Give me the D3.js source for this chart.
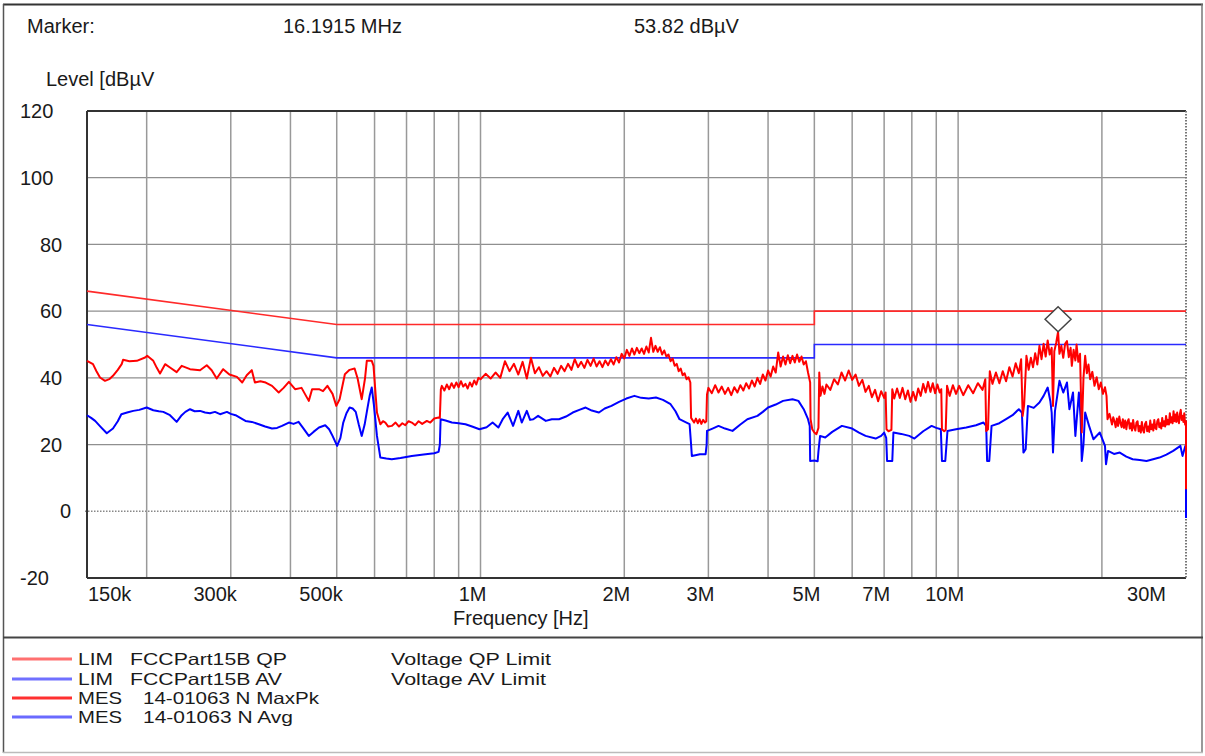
<!DOCTYPE html>
<html>
<head>
<meta charset="utf-8">
<script src="https://cdn.jsdelivr.net/npm/d3@7"></script>
<style>
  html, body { margin: 0; padding: 0; background: #fff; }
  svg { display: block; }
  text { font-family: "Liberation Sans", Arial, sans-serif; fill: #1a1a1a; }
</style>
</head>
<body>
<svg id="chart" width="1205" height="756"></svg>
<script>
// ---------- data ----------
const yTicks = [-20, 0, 20, 40, 60, 80, 100, 120];
const xTickFreqs = [0.15, 0.3, 0.5, 1, 2, 3, 5, 7, 10, 30];           // MHz
const xTickLabels = ["150k", "300k", "500k", "1M", "2M", "3M", "5M", "7M", "10M", "30M"];
const gridFreqs = [0.2, 0.3, 0.4, 0.5, 0.6, 0.7, 0.8, 0.9, 1, 2, 3, 4, 5, 6, 7, 8, 9, 10, 20];
const headerTexts = ["Marker:", "16.1915 MHz", "53.82 dBµV"];
const marker = { freq: 16.1915, level: 53.82 };

const qpLimit = [[0.15, 66], [0.5, 56], [5, 56], [5, 60], [30, 60]];
const avLimit = [[0.15, 56], [0.5, 46], [5, 46], [5, 50], [30, 50]];

const legendNames = ["LIM", "LIM", "MES", "MES"];
const legendSeries = ["FCCPart15B QP", "FCCPart15B AV", "14-01063 N MaxPk", "14-01063 N Avg"];
const legendDescr = ["Voltage QP Limit", "Voltage AV Limit", "", ""];

const maxPk = [
[0.150,45.1],[0.1544,44.1],[0.157,42.0],[0.1597,40.1],[0.1636,39.1],[0.167,39.6],[0.170,40.6],[0.174,42.4],[0.1773,44.1],[0.1785,45.4],[0.184,45.0],[0.1907,45.1],[0.1985,46.1],[0.2005,46.6],[0.2065,45.1],[0.210,43.0],[0.2133,41.3],[0.2186,44.1],[0.2238,43.1],[0.2311,41.7],[0.2368,43.6],[0.2465,42.6],[0.2587,42.3],[0.2672,43.8],[0.2736,42.3],[0.2803,39.8],[0.2892,42.6],[0.298,41.0],[0.309,40.3],[0.317,38.6],[0.324,40.8],[0.332,42.3],[0.337,38.6],[0.346,39.0],[0.355,38.6],[0.366,37.6],[0.378,35.6],[0.387,37.0],[0.397,38.8],[0.409,36.6],[0.422,37.0],[0.437,33.1],[0.444,36.6],[0.459,36.6],[0.468,36.0],[0.478,37.6],[0.490,35.2],[0.499,31.6],[0.507,33.6],[0.520,41.1],[0.532,42.4],[0.545,42.8],[0.553,39.8],[0.564,33.6],[0.573,39.8],[0.578,45.1],[0.592,45.1],[0.597,43.6],[0.607,29.6],[0.617,26.1],[0.625,27.0],[0.632,26.6],[0.641,25.4],[0.652,25.6],[0.664,26.6],[0.675,25.4],[0.686,26.4],[0.696,25.8],[0.707,27.0],[0.718,26.6],[0.730,25.8],[0.742,27.0],[0.755,26.2],[0.772,27.1],[0.785,26.6],[0.800,27.8],[0.817,28.1],[0.822,28.0],[0.826,36.6],
[0.83,37.6],[0.84,36.2],[0.85,38.0],[0.86,36.6],[0.87,38.4],[0.88,37.0],[0.89,38.6],[0.90,37.2],[0.91,39.0],[0.92,37.4],[0.93,38.2],[0.94,36.8],[0.95,38.6],[0.96,37.4],[0.97,39.2],[0.98,38.0],[0.99,40.0],
[1.000,39.6],[1.025,41.2],[1.050,39.8],[1.075,41.6],[1.100,40.0],[1.125,45.0],[1.150,42.0],[1.175,44.2],[1.200,41.0],[1.225,44.8],[1.250,39.8],[1.275,46.0],[1.300,41.4],[1.325,43.2],[1.350,40.6],[1.375,42.0],[1.400,40.4],[1.425,43.0],[1.450,41.2],[1.475,43.6],[1.500,42.0],[1.525,44.2],[1.550,42.4],[1.575,45.6],[1.600,43.2],[1.625,44.8],[1.650,43.0],[1.675,45.4],[1.700,43.6],[1.725,45.8],[1.750,43.4],[1.775,45.0],[1.800,43.2],[1.825,45.2],[1.850,43.8],[1.875,45.6],[1.900,44.0],[1.925,46.2],[1.950,44.6],[1.975,47.2],[2.000,45.8],
[2.025,48.4],[2.050,46.6],[2.075,48.8],[2.100,47.0],[2.125,49.0],[2.150,47.4],[2.175,48.8],[2.200,47.2],[2.225,49.4],[2.250,47.6],[2.275,52.0],[2.300,47.8],[2.325,49.6],[2.350,47.8],[2.375,49.2],[2.400,47.0],[2.425,48.2],[2.450,46.4],[2.475,47.0],[2.500,45.0],[2.525,45.8],[2.550,43.6],[2.575,44.2],[2.600,42.0],[2.625,42.8],[2.650,40.8],[2.675,41.4],[2.700,39.6],[2.725,40.2],[2.750,38.6],[2.760,28.0],[2.800,26.6],[2.825,27.8],[2.850,26.4],[2.875,27.6],[2.900,26.2],[2.925,27.4],[2.950,26.6],[2.970,27.0],[2.980,35.0],
[3.00,37.0],[3.05,35.4],[3.10,37.8],[3.15,35.6],[3.20,37.4],[3.25,35.2],[3.30,37.0],[3.35,34.8],[3.40,37.2],[3.45,35.6],[3.50,37.8],[3.55,36.2],[3.60,38.4],[3.65,36.8],[3.70,39.2],[3.75,37.4],[3.80,40.0],[3.85,38.2],[3.90,41.0],[3.95,39.2],[4.00,42.2],[4.05,40.4],[4.10,43.4],[4.15,41.6],[4.20,47.6],[4.25,43.4],[4.30,46.4],[4.35,44.0],[4.40,46.8],[4.45,44.4],[4.50,46.6],[4.55,44.6],[4.60,47.0],[4.65,44.8],[4.70,46.4],[4.75,44.0],[4.80,45.0],[4.85,41.6],[4.90,38.6],[4.91,27.6],[4.95,24.6],[5.00,23.6],[5.05,23.1],[5.10,25.0],[5.12,41.6],[5.15,34.6],[5.20,37.4],[5.25,35.2],
[5.30,38.0],[5.40,36.4],[5.50,39.6],[5.60,38.0],[5.70,41.6],[5.80,39.2],[5.90,42.2],[6.00,39.4],[6.10,41.0],[6.20,37.6],[6.30,39.4],[6.40,35.8],[6.50,37.6],[6.60,34.2],[6.70,36.4],[6.80,33.0],[6.90,36.0],[7.00,34.0],[7.05,35.6],[7.08,24.6],[7.15,24.0],[7.25,24.4],[7.28,36.6],[7.35,33.8],[7.45,36.8],[7.55,34.0],[7.65,37.0],[7.75,33.6],[7.85,36.2],[7.95,32.8],[8.05,35.8],[8.15,33.2],[8.25,36.8],[8.35,34.6],[8.45,38.2],[8.55,35.6],[8.65,38.8],[8.75,35.8],[8.85,38.4],[8.95,35.4],[9.05,38.0],[9.15,35.6],[9.22,36.6],[9.25,24.6],[9.35,24.0],[9.42,24.4],[9.48,37.6],[9.60,34.6],[9.75,37.8],[9.90,35.2],[10.05,37.6],
[10.25,34.8],[10.50,37.8],[10.75,35.4],[11.00,38.4],[11.25,36.4],[11.40,39.6],[11.45,24.1],[11.55,24.6],[11.65,42.0],[11.80,38.2],[12.00,41.6],[12.20,38.4],[12.40,42.0],[12.60,39.0],[12.80,43.2],[13.00,40.4],[13.20,44.4],[13.40,41.4],[13.55,45.6],[13.65,28.6],[13.75,32.0],[13.90,46.6],[14.05,42.4],[14.20,46.0],[14.35,43.2],[14.50,47.4],[14.65,44.0],[14.80,49.6],[14.95,45.6],[15.10,50.2],[15.25,46.4],[15.40,51.2],[15.55,47.0],[15.70,49.0],[15.80,31.6],[15.90,48.0],[16.05,50.6],[16.19,53.8],[16.30,47.2],[16.45,49.6],[16.60,46.0],[16.75,50.2],[16.90,51.0],[17.05,46.2],[17.20,49.0],[17.30,43.6],[17.45,48.4],[17.60,45.2],[17.70,50.0],[17.85,44.8],[18.00,47.2],[18.15,23.6],[18.30,40.0],[18.45,46.6],[18.60,41.4],[18.75,44.0],[18.90,39.6],[19.10,41.8],[19.30,37.6],[19.50,40.2],[19.70,36.6],[19.90,38.6],[20.10,35.2],[20.30,37.2],[20.45,34.6],[20.55,27.6],[20.75,29.2],
[21.000,26.0],[21.125,28.2],[21.250,27.0],[21.375,25.2],[21.500,27.8],[21.625,25.6],[21.750,28.4],[21.875,26.4],[22.000,25.2],[22.125,27.6],[22.250,25.0],[22.375,27.2],[22.500,24.6],[22.625,26.8],[22.750,27.6],[22.875,24.8],[23.000,26.4],[23.125,24.2],[23.250,27.4],[23.375,25.0],[23.500,24.2],[23.625,26.6],[23.750,27.0],[23.875,24.0],[24.000,25.6],[24.125,23.6],[24.250,26.8],[24.375,24.4],[24.500,23.6],[24.625,26.2],[24.750,26.8],[24.875,24.0],[25.000,25.4],[25.125,23.8],[25.250,27.2],[25.375,24.6],[25.500,26.0],[25.625,24.2],[25.750,27.4],[25.875,25.0],[26.000,24.6],[26.125,27.0],[26.250,27.6],[26.375,25.2],[26.500,26.4],[26.625,24.8],[26.750,28.0],[26.875,25.6],[27.000,27.0],[27.125,25.4],[27.250,28.6],[27.375,26.0],[27.500,27.4],[27.625,26.0],[27.750,29.4],[27.875,26.6],[28.000,28.2],[28.125,26.4],[28.250,30.0],[28.375,27.0],[28.500,29.0],[28.625,26.8],[28.750,29.6],[28.875,27.2],[29.000,26.4],[29.125,29.2],[29.250,30.4],[29.375,27.4],[29.500,28.6],[29.625,26.8],[29.750,29.4],[29.875,26.0],[30.000,27.0],[30.000,6.6]
];

const avg = [
[0.150,28.8],[0.153,28.0],[0.156,27.1],[0.160,25.4],[0.165,23.4],[0.170,24.8],[0.174,27.0],[0.177,29.1],[0.182,29.6],[0.1875,30.1],[0.193,30.4],[0.200,31.1],[0.2065,30.3],[0.212,30.0],[0.2167,29.8],[0.2238,28.8],[0.2311,26.8],[0.2368,28.8],[0.241,29.8],[0.2465,30.6],[0.252,30.0],[0.2587,30.1],[0.265,29.6],[0.2714,29.4],[0.278,29.8],[0.2849,29.1],[0.2945,29.8],[0.300,29.2],[0.307,28.8],[0.314,28.0],[0.322,27.1],[0.332,26.8],[0.3435,26.1],[0.354,25.4],[0.366,24.8],[0.375,25.0],[0.384,25.6],[0.397,26.6],[0.406,26.2],[0.416,26.8],[0.425,25.0],[0.437,22.6],[0.447,23.8],[0.459,25.1],[0.473,25.8],[0.482,24.6],[0.490,22.6],[0.501,19.6],[0.509,22.0],[0.516,26.6],[0.524,29.4],[0.532,31.1],[0.540,30.8],[0.548,29.8],[0.556,26.0],[0.564,22.6],[0.572,26.0],[0.580,31.0],[0.586,34.6],[0.592,37.1],[0.598,32.0],[0.607,22.6],[0.617,16.1],[0.635,15.8],[0.652,15.6],[0.680,16.0],[0.718,16.6],[0.760,17.0],[0.800,17.4],[0.817,17.8],[0.822,20.0],[0.825,27.6],[0.845,27.2],[0.871,26.6],[0.90,26.4],[0.93,26.1],[0.96,25.4],[0.995,24.6],
[1.03,25.2],[1.06,26.6],[1.09,25.1],[1.115,27.8],[1.14,29.6],[1.17,25.6],[1.20,30.1],[1.22,26.6],[1.25,30.1],[1.27,27.4],[1.29,27.6],[1.32,28.6],[1.37,27.1],[1.41,27.6],[1.46,27.6],[1.51,28.4],[1.56,29.6],[1.61,30.4],[1.66,31.1],[1.71,30.2],[1.77,29.6],[1.82,30.8],[1.88,31.6],[1.95,32.8],[2.02,33.8],[2.10,34.6],[2.17,34.0],[2.25,33.8],[2.33,34.1],[2.41,33.4],[2.50,32.1],[2.56,30.0],[2.61,27.6],[2.68,26.8],[2.74,26.1],[2.76,20.0],[2.77,16.6],[2.88,17.1],[2.96,17.1],[2.975,20.0],[2.98,24.1],[3.06,24.8],[3.15,25.6],[3.25,24.8],[3.37,24.1],[3.50,26.0],[3.62,27.6],[3.80,28.6],[3.90,29.8],[4.00,31.1],[4.15,32.0],[4.30,33.1],[4.50,33.6],[4.63,33.1],[4.75,30.6],[4.85,27.6],[4.89,25.6],[4.90,15.1],[5.00,15.2],[5.08,15.0],[5.10,18.0],[5.14,22.6],[5.27,22.1],[5.45,23.8],[5.71,25.6],[6.00,24.8],[6.20,23.6],[6.40,22.6],[6.72,21.8],[6.90,22.6],[7.00,23.6],[7.07,22.0],[7.10,15.1],[7.28,15.1],[7.32,23.6],[7.60,23.2],[7.90,22.6],[8.10,21.8],[8.45,24.0],[8.80,25.6],[9.00,25.0],[9.20,24.6],[9.25,15.1],[9.40,15.1],[9.50,24.1],[9.90,24.6],[10.4,25.1],[10.9,25.8],[11.3,26.6],[11.45,25.6],[11.5,15.1],[11.62,15.1],[11.75,25.6],[12.2,26.4],[12.6,27.6],[13.0,28.8],[13.4,30.6],[13.6,29.6],[13.7,17.6],[13.85,18.6],[14.0,31.6],[14.4,31.0],[14.8,32.6],[15.1,34.6],[15.4,37.1],[15.6,33.0],[15.7,29.6],[15.8,17.6],[15.95,30.0],[16.3,39.1],[16.6,35.6],[16.9,38.6],[17.1,30.6],[17.4,35.6],[17.6,22.6],[17.9,35.6],[18.05,28.0],[18.15,15.1],[18.3,20.0],[18.45,29.6],[18.8,25.6],[19.2,21.6],[19.8,23.6],[20.3,19.6],[20.4,14.1],[20.6,18.1],[21.2,17.2],[21.8,17.6],[22.5,16.4],[23.2,15.6],[24.0,15.4],[24.8,15.1],[25.6,15.6],[26.4,16.1],[27.3,17.0],[28.2,18.1],[28.8,19.0],[29.2,19.6],[29.5,16.6],[29.9,19.6],[30.0,18.5],[30.0,-2.0]
];

// ---------- drawing ----------
const svg = d3.select("#chart");
const FONT = 20;
const x = d3.scaleLog().domain([0.15, 30]).range([87, 1186]);
const y = d3.scaleLinear().domain([-20, 120]).range([578, 111]);

// outer frame
svg.append("rect").attr("x", 0).attr("y", 0).attr("width", 1205).attr("height", 756).attr("fill", "#fff");
svg.append("line").attr("x1", 3).attr("x2", 1203).attr("y1", 4.5).attr("y2", 4.5).attr("stroke", "#333").attr("stroke-width", 2);
svg.append("line").attr("x1", 3.5).attr("x2", 3.5).attr("y1", 4).attr("y2", 753).attr("stroke", "#555").attr("stroke-width", 1.5);
svg.append("line").attr("x1", 1202).attr("x2", 1202).attr("y1", 4).attr("y2", 753).attr("stroke", "#777").attr("stroke-width", 1.5);
svg.append("line").attr("x1", 3).attr("x2", 1203).attr("y1", 637.5).attr("y2", 637.5).attr("stroke", "#444").attr("stroke-width", 2);
svg.append("line").attr("x1", 3).attr("x2", 1203).attr("y1", 752.5).attr("y2", 752.5).attr("stroke", "#bbb").attr("stroke-width", 1.5);

// header
const headerX = [27, 283, 634];
svg.selectAll("text.hdr").data(headerTexts).enter().append("text")
  .attr("class", "hdr").attr("x", (d, i) => headerX[i]).attr("y", 33)
  .attr("font-size", FONT).text(d => d);
svg.append("text").attr("x", 46).attr("y", 86).attr("font-size", FONT).text("Level [dBµV");

// grid
const g = svg.append("g");
g.selectAll("line.hg").data(yTicks.filter(v => v > -20 && v < 120 && v !== 0)).enter().append("line")
  .attr("x1", x(0.15)).attr("x2", x(30)).attr("y1", d => y(d)).attr("y2", d => y(d))
  .attr("stroke", "#8f8f8f").attr("stroke-width", 1.3);
g.append("line").attr("x1", x(0.15) - 2).attr("x2", x(30)).attr("y1", y(0)).attr("y2", y(0))
  .attr("stroke", "#888").attr("stroke-width", 1.5).attr("stroke-dasharray", "1.5,1.5");
g.selectAll("line.vg").data(gridFreqs).enter().append("line")
  .attr("x1", d => x(d)).attr("x2", d => x(d)).attr("y1", y(120)).attr("y2", y(-20))
  .attr("stroke", "#999").attr("stroke-width", 1.5);

// frame
g.append("line").attr("x1", x(0.15)).attr("x2", x(30)).attr("y1", y(120)).attr("y2", y(120)).attr("stroke", "#333").attr("stroke-width", 2);
g.append("line").attr("x1", x(0.15)).attr("x2", x(30)).attr("y1", y(-20)).attr("y2", y(-20)).attr("stroke", "#333").attr("stroke-width", 2);
g.append("line").attr("x1", x(0.15)).attr("x2", x(0.15)).attr("y1", y(120)).attr("y2", y(-20)).attr("stroke", "#333").attr("stroke-width", 2);
g.append("line").attr("x1", x(30)).attr("x2", x(30)).attr("y1", y(120)).attr("y2", y(-20)).attr("stroke", "#777").attr("stroke-width", 2).attr("stroke-dasharray", "1.5,1.5");

// y tick labels
svg.selectAll("text.yt").data(yTicks).enter().append("text")
  .attr("x", d => 20 + (3 - String(d).length) * 20).attr("y", d => y(d)).attr("dy", "0.36em")
  .attr("font-size", FONT).text(d => String(d));

// x tick labels
svg.selectAll("text.xt").data(xTickFreqs).enter().append("text")
  .attr("x", (d, i) => i === 0 ? x(d) + 1 : (i === xTickFreqs.length - 1 ? x(d) - 20 : x(d) + 6))
  .attr("text-anchor", (d, i) => i === 0 ? "start" : "end")
  .attr("y", 601).attr("font-size", FONT).text((d, i) => xTickLabels[i]);
svg.append("text").attr("x", 453).attr("y", 625).attr("font-size", FONT).text("Frequency [Hz]");

// lines
const line = d3.line().x(d => x(d[0])).y(d => y(d[1]));
const plot = svg.append("g");
plot.append("path").datum(qpLimit).attr("d", line).attr("fill", "none").attr("stroke", "#ff2a2a").attr("stroke-width", 1.6);
plot.append("path").datum(avLimit).attr("d", line).attr("fill", "none").attr("stroke", "#2a2aff").attr("stroke-width", 1.6);
plot.append("path").datum(avg).attr("d", line).attr("fill", "none").attr("stroke", "#0000ff").attr("stroke-width", 2).attr("stroke-linejoin", "round");
plot.append("path").datum(maxPk).attr("d", line).attr("fill", "none").attr("stroke", "#ff0000").attr("stroke-width", 2).attr("stroke-linejoin", "round");

// marker diamond (bottom tip at the marker level)
const mx = x(marker.freq), my = y(marker.level);
plot.append("path")
  .attr("d", `M${mx},${my} L${mx + 13},${my - 12.5} L${mx},${my - 25} L${mx - 13},${my - 12.5} Z`)
  .attr("fill", "#fff").attr("stroke", "#444").attr("stroke-width", 1.5);

// legend (compact rows, glyphs stretched to the reference widths)
const LFONT = 16.5;
const legColors = ["#ff7070", "#7070ff", "#ff3030", "#6a6aff"];
const legY = [659, 679, 698, 717];
const nameW = { LIM: 35, MES: 44 };
const seriesW = [157, 152, 176, 150];
const descrW = [160, 155];
const leg = svg.append("g");
legendNames.forEach((n, i) => {
  leg.append("line").attr("x1", 12).attr("x2", 72).attr("y1", legY[i]).attr("y2", legY[i])
    .attr("stroke", legColors[i]).attr("stroke-width", 3);
  leg.append("text").attr("x", 78).attr("y", legY[i]).attr("dy", "0.36em").attr("font-size", LFONT)
    .attr("textLength", nameW[n]).attr("lengthAdjust", "spacingAndGlyphs").text(n);
  leg.append("text").attr("x", n === "LIM" ? 130 : 143).attr("y", legY[i]).attr("dy", "0.36em").attr("font-size", LFONT)
    .attr("textLength", seriesW[i]).attr("lengthAdjust", "spacingAndGlyphs").text(legendSeries[i]);
  if (legendDescr[i]) leg.append("text").attr("x", 391).attr("y", legY[i]).attr("dy", "0.36em").attr("font-size", LFONT)
    .attr("textLength", descrW[i]).attr("lengthAdjust", "spacingAndGlyphs").text(legendDescr[i]);
});
</script>
</body>
</html>
